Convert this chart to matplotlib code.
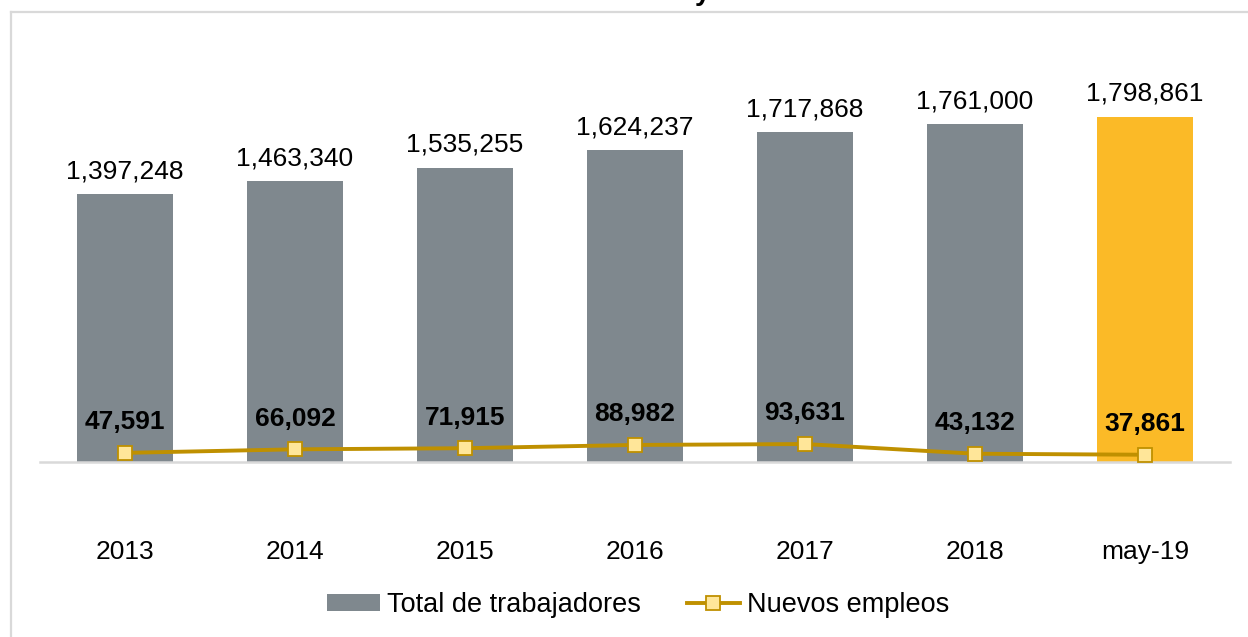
import matplotlib
matplotlib.use("Agg")
import matplotlib.pyplot as plt
from matplotlib.lines import Line2D

plt.rcParams['font.family'] = ['Liberation Sans', 'DejaVu Sans']

# data
categories = ["2013", "2014", "2015", "2016", "2017", "2018", "may-19"]
total_trabajadores = [1397248, 1463340, 1535255, 1624237, 1717868, 1761000, 1798861]
nuevos_empleos = [47591, 66092, 71915, 88982, 93631, 43132, 37861]

gray = "#7F888E"
gold = "#FBBA27"
line_col = "#BF9000"
marker_face = "#FFE699"

fig = plt.figure(figsize=(12.48, 6.37), dpi=100)
ax = fig.add_axes([40 / 1248, 175 / 637, 1190 / 1248, 422 / 637])

x = list(range(len(categories)))
colors = [gray] * (len(categories) - 1) + [gold]
bars = ax.bar(x, total_trabajadores, width=0.56, color=colors, label="Total de trabajadores", zorder=2)
line, = ax.plot(x, nuevos_empleos, color=line_col, lw=2.8, marker="s", markersize=10,
                markerfacecolor=marker_face, markeredgecolor=line_col, markeredgewidth=1.3,
                label="Nuevos empleos", zorder=3)

# value labels
for i, v in enumerate(total_trabajadores):
    ax.annotate(f"{v:,}", (i, v), xytext=(0, 11.5), textcoords="offset points",
                ha="center", va="baseline", fontsize=19)
for i, v in enumerate(nuevos_empleos):
    ax.annotate(f"{v:,}", (i, v), xytext=(0, 17), textcoords="offset points",
                ha="center", va="baseline", fontsize=19, fontweight="bold")

ax.set_xlim(-0.5, len(categories) - 0.5)
ax.set_ylim(0, 2.2e6)
ax.set_xticks(x)
ax.set_xticklabels(categories, fontsize=19)
ax.tick_params(axis="x", length=0, pad=56)
ax.set_yticks([])
for s in ["top", "right", "left"]:
    ax.spines[s].set_visible(False)
ax.spines["bottom"].set_color("#D9D9D9")
ax.spines["bottom"].set_linewidth(1.8)

bars.patches[0].set_label("Total de trabajadores")
fig.legend([bars.patches[0], line], ["Total de trabajadores", "Nuevos empleos"],
           loc="center", bbox_to_anchor=(638 / 1248, 1 - 605 / 637), ncol=2,
           frameon=False, fontsize=19.5, handlelength=1.95, handletextpad=0.27,
           columnspacing=1.7, handleheight=0.55)

# cut-off title and outer frame
fig.text(703 / 1248, 1.0, "y", ha="center", va="baseline", fontsize=20, fontweight="bold")
fig.add_artist(Line2D([11 / 1248, 1], [1 - 11.5 / 637, 1 - 11.5 / 637],
                      transform=fig.transFigure, color="#D9D9D9", lw=1.6))
fig.add_artist(Line2D([11 / 1248, 11 / 1248], [0, 1 - 11.5 / 637],
                      transform=fig.transFigure, color="#D9D9D9", lw=1.6))

fig.savefig("out.png", dpi=100)
